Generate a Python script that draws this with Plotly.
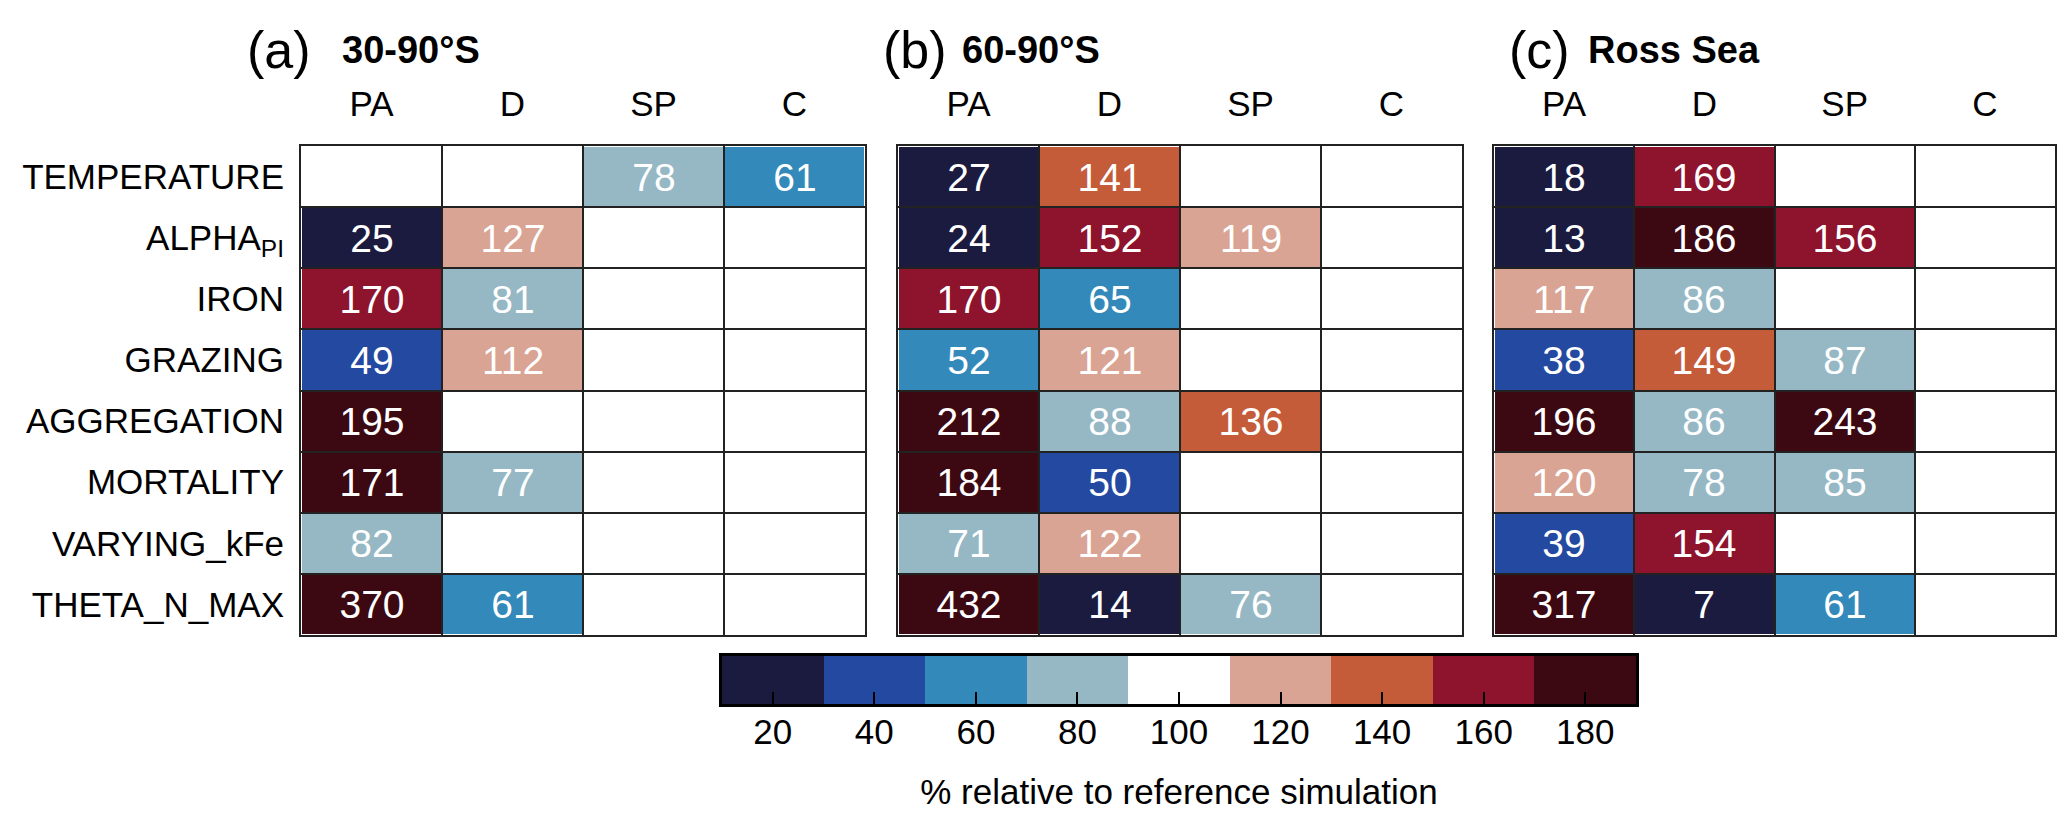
import plotly.graph_objects as go

# ---------------- data ----------------
columns = ["PA", "D", "SP", "C"]
rows = ["TEMPERATURE", "ALPHA<sub>PI</sub>", "IRON", "GRAZING", "AGGREGATION",
        "MORTALITY", "VARYING_kFe", "THETA_N_MAX"]

panel_a = [
    [None, None, 78, 61],
    [25, 127, None, None],
    [170, 81, None, None],
    [49, 112, None, None],
    [195, None, None, None],
    [171, 77, None, None],
    [82, None, None, None],
    [370, 61, None, None],
]
panel_b = [
    [27, 141, None, None],
    [24, 152, 119, None],
    [170, 65, None, None],
    [52, 121, None, None],
    [212, 88, 136, None],
    [184, 50, None, None],
    [71, 122, None, None],
    [432, 14, 76, None],
]
panel_c = [
    [18, 169, None, None],
    [13, 186, 156, None],
    [117, 86, None, None],
    [38, 149, 87, None],
    [196, 86, 243, None],
    [120, 78, 85, None],
    [39, 154, None, None],
    [317, 7, 61, None],
]
panel_labels = ["(a)", "(b)", "(c)"]
panel_titles = ["30-90°S", "60-90°S", "Ross Sea"]

cbar_ticks = [20, 40, 60, 80, 100, 120, 140, 160, 180]
cbar_colors = ["#1b1b40", "#2449a0", "#3489bb", "#96b8c5", "#ffffff",
               "#d9a493", "#c45c3a", "#8e132c", "#3c0912"]
cbar_title = "% relative to reference simulation"

# ---------------- styling ----------------
W, H = 2067, 825
FONT = "Liberation Sans, Arial, Helvetica, sans-serif"
ZMIN, ZMAX = 10.5, 190.5

n = len(cbar_colors)
colorscale = []
for i, c in enumerate(cbar_colors):
    colorscale.append([i / n, c])
    colorscale.append([(i + 1) / n, c])

def px_x(p):
    return p / W

def px_y(p):
    return (H - p) / H

panel_px = [(293, 857), (890, 1454), (1486, 2047)]
ytop, ybot = 138, 627
title_px = [(237, 332), (873, 952), (1499, 1578)]

fig = go.Figure()
xi = list(range(len(columns)))
yi = list(range(len(rows)))

for k, data in enumerate([panel_a, panel_b, panel_c]):
    text = [["" if v is None else str(v) for v in r] for r in data]
    sfx = "" if k == 0 else str(k + 1)
    fig.add_trace(go.Heatmap(
        z=data, x=xi, y=yi, text=text, texttemplate="%{text}",
        textfont=dict(color="white", size=39, family=FONT),
        colorscale=colorscale, zmin=ZMIN, zmax=ZMAX, showscale=False,
        xgap=2, ygap=2, hoverongaps=False,
        xaxis="x" + sfx, yaxis="y" + sfx,
    ))
    x0, x1 = panel_px[k]
    fig.layout["xaxis" + sfx] = dict(
        domain=[px_x(x0), px_x(x1)], anchor="y" + sfx, side="top",
        range=[-0.5, len(columns) - 0.5], tickvals=xi, ticktext=columns,
        ticks="outside", ticklen=14, tickcolor="rgba(0,0,0,0)",
        tickfont=dict(size=35, family=FONT, color="black"),
        showgrid=False, zeroline=False,
        showline=True, mirror=True, linecolor="#222", linewidth=2,
        minor=dict(tick0=0.5, dtick=1, showgrid=True, gridcolor="#222",
                   gridwidth=2, ticks=""),
        fixedrange=True,
    )
    fig.layout["yaxis" + sfx] = dict(
        domain=[px_y(ybot), px_y(ytop)], anchor="x" + sfx,
        range=[len(rows) - 0.5, -0.5], tickvals=yi, ticktext=rows,
        showticklabels=(k == 0),
        ticks="outside" if k == 0 else "", ticklen=8, tickcolor="rgba(0,0,0,0)",
        tickfont=dict(size=35, family=FONT, color="black"),
        showgrid=False, zeroline=False,
        showline=True, mirror=True, linecolor="#222", linewidth=2,
        minor=dict(tick0=0.5, dtick=1, showgrid=True, gridcolor="#222",
                   gridwidth=2, ticks=""),
        fixedrange=True,
    )
    # panel titles
    lx, tx = title_px[k]
    fig.add_annotation(text=panel_labels[k], xref="paper", yref="paper",
                       x=px_x(lx), y=px_y(42), xanchor="left", yanchor="middle",
                       showarrow=False, font=dict(size=52, family=FONT, color="black"))
    fig.add_annotation(text="<b>" + panel_titles[k] + "</b>", xref="paper", yref="paper",
                       x=px_x(tx), y=px_y(42), xanchor="left", yanchor="middle",
                       showarrow=False, font=dict(size=38, family=FONT, color="black"))

# colour bar drawn as its own small heatmap
fig.add_trace(go.Heatmap(
    z=[cbar_ticks], x=cbar_ticks, y=[0], colorscale=colorscale,
    zmin=ZMIN, zmax=ZMAX, showscale=False, hoverinfo="skip",
    xaxis="x4", yaxis="y4",
))
fig.layout["xaxis4"] = dict(
    domain=[px_x(714), px_x(1628)], anchor="y4",
    range=[cbar_ticks[0] - 10, cbar_ticks[-1] + 10], tickvals=cbar_ticks,
    ticks="inside", ticklen=12, tickwidth=2, tickcolor="black",
    ticklabelstandoff=-5,
    tickfont=dict(size=35, family=FONT, color="black"),
    showline=True, mirror=True, linecolor="black", linewidth=3,
    showgrid=False, zeroline=False, layer="above traces",
    title=dict(text=cbar_title, font=dict(size=35, family=FONT, color="black"), standoff=30),
    fixedrange=True,
)
fig.layout["yaxis4"] = dict(
    domain=[px_y(696), px_y(648)], anchor="x4", range=[-0.5, 0.5],
    showticklabels=False, ticks="", showgrid=False, zeroline=False,
    showline=True, mirror=True, linecolor="black", linewidth=3,
    layer="above traces", fixedrange=True,
)

fig.update_layout(
    width=W, height=H, margin=dict(l=0, r=0, t=0, b=0),
    paper_bgcolor="white", plot_bgcolor="white",
    font=dict(family=FONT, color="black"),
    showlegend=False,
)

fig.write_html("out.html", config={"displayModeBar": False})
